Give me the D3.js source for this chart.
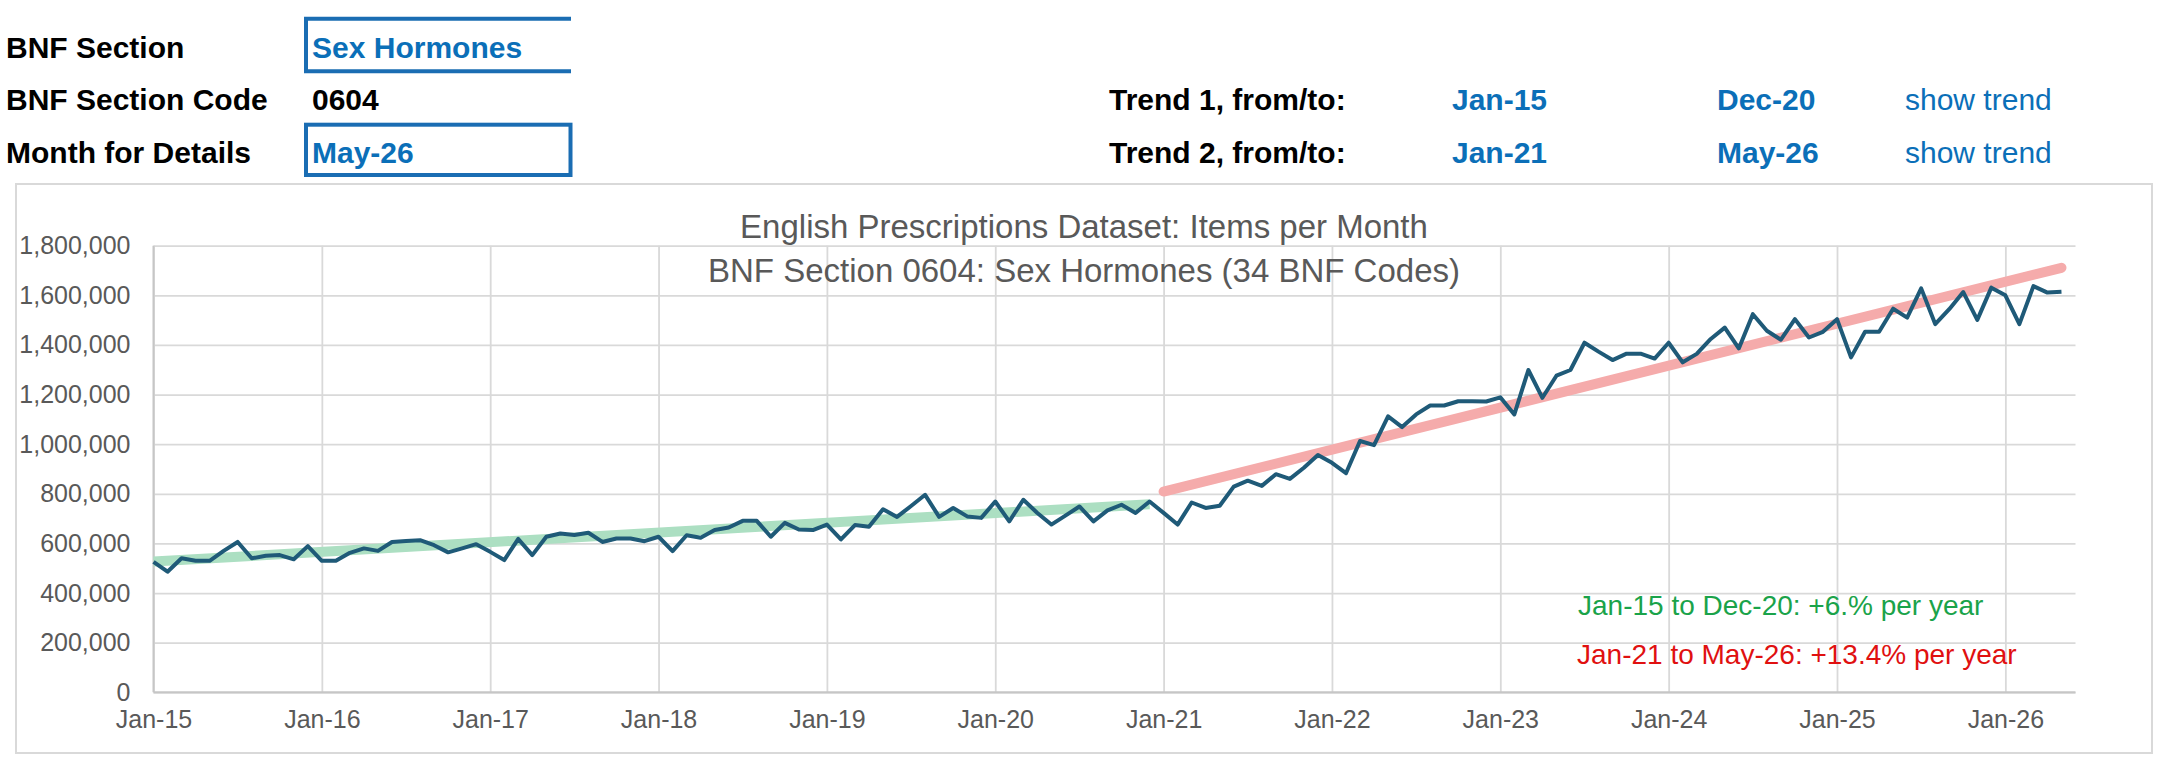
<!DOCTYPE html>
<html>
<head>
<meta charset="utf-8">
<script src="https://cdn.jsdelivr.net/npm/d3@7"></script>
<style>
  html, body { margin: 0; padding: 0; background: #fff; }
  svg { display: block; font-family: "Liberation Sans", Arial, sans-serif; }
</style>
</head>
<body>
<svg id="chart" width="2161" height="764"></svg>
<script>
// ---------- data ----------
const startYear = 2015;              // month index 0 = Jan-15
const xTickMonths = [0, 12, 24, 36, 48, 60, 72, 84, 96, 108, 120, 132];
const xTickLabels = ["Jan-15","Jan-16","Jan-17","Jan-18","Jan-19","Jan-20","Jan-21","Jan-22","Jan-23","Jan-24","Jan-25","Jan-26"];
const yTicks = [0, 200000, 400000, 600000, 800000, 1000000, 1200000, 1400000, 1600000, 1800000];

// Items per month, Jan-15 .. May-26
const items = [
  526000, 486000, 540000, 530000, 530000, 570000, 606000, 540000, 550000, 553000, 536000, 589000,   // 2015
  530000, 530000, 562000, 580000, 570000, 606000, 610000, 613000, 593000, 564000, 580000, 597000,   // 2016
  566000, 533000, 618000, 553000, 627000, 640000, 634000, 643000, 606000, 620000, 620000, 609000,   // 2017
  627000, 569000, 633000, 623000, 654000, 664000, 691000, 691000, 627000, 683000, 656000, 654000,   // 2018
  676000, 616000, 674000, 667000, 738000, 707000, 751000, 796000, 707000, 743000, 709000, 703000,   // 2019
  769000, 689000, 776000, 723000, 676000, 712000, 749000, 689000, 733000, 756000, 723000, 769000,   // 2020
  723000, 676000, 765000, 743000, 752000, 829000, 853000, 832000, 879000, 860000, 905000, 956000,   // 2021
  925000, 883000, 1013000, 996000, 1112000, 1069000, 1120000, 1156000, 1156000, 1173000, 1173000, 1172000, // 2022
  1189000, 1120000, 1299000, 1187000, 1276000, 1299000, 1409000, 1373000, 1339000, 1365000, 1365000, 1345000, // 2023
  1409000, 1330000, 1364000, 1424000, 1470000, 1386000, 1524000, 1457000, 1421000, 1504000, 1430000, 1453000, // 2024
  1504000, 1350000, 1453000, 1453000, 1546000, 1510000, 1628000, 1484000, 1544000, 1613000, 1501000, 1631000, // 2025
  1600000, 1484000, 1637000, 1611000, 1614000                                                          // 2026
];

// Trend lines: [month index, value] at start and end
const trend1 = [[0, 527000], [71, 758000]];
const trend2 = [[72, 809000], [136, 1711000]];

const trendNotes = ["Jan-15 to Dec-20: +6.% per year", "Jan-21 to May-26: +13.4% per year"];
const titleLines = ["English Prescriptions Dataset: Items per Month", "BNF Section 0604: Sex Hormones (34 BNF Codes)"];

const headerLabels = ["BNF Section", "BNF Section Code", "Month for Details"];
const headerValues = ["Sex Hormones", "0604", "May-26"];
const trendRows = [
  ["Trend 1, from/to:", "Jan-15", "Dec-20", "show trend"],
  ["Trend 2, from/to:", "Jan-21", "May-26", "show trend"]
];

// ---------- drawing ----------
const svg = d3.select("#chart");
const W = 2161, H = 764;
const plot = { left: 153.5, right: 2075.5, top: 245.7, bottom: 692.3 };

const x = d3.scaleLinear().domain([0, 137]).range([plot.left, plot.right]);
const y = d3.scaleLinear().domain([0, 1800000]).range([plot.bottom, plot.top]);

const BLUE = "#0b6fb8";
const BOXBLUE = "#1a6db3";
const GREY = "#595959";
const GRID = "#d9d9d9";

// Header
const rowBase = [58, 110, 163];
svg.append("g").selectAll("text").data(headerLabels).join("text")
  .attr("x", 6).attr("y", (d, i) => rowBase[i])
  .attr("font-size", 30).attr("font-weight", "bold").attr("fill", "#000")
  .text(d => d);
svg.append("g").selectAll("text").data(headerValues).join("text")
  .attr("x", 312).attr("y", (d, i) => rowBase[i])
  .attr("font-size", 30).attr("font-weight", "bold")
  .attr("fill", (d, i) => i === 1 ? "#000" : BLUE)
  .text(d => d);

// Boxes around inputs
const box = svg.append("g").attr("fill", "none").attr("stroke", BOXBLUE).attr("stroke-width", 4);
box.append("path").attr("d", "M571,18.7 H306 V71.3 H571");
box.append("rect").attr("x", 306).attr("y", 124.7).attr("width", 264.5).attr("height", 50.3);

// Trend rows
const trendG = svg.append("g");
trendRows.forEach((r, i) => {
  const yy = rowBase[i + 1];
  trendG.append("text").attr("x", 1109).attr("y", yy).attr("font-size", 30).attr("font-weight", "bold").attr("fill", "#000").text(r[0]);
  trendG.append("text").attr("x", 1452).attr("y", yy).attr("font-size", 30).attr("font-weight", "bold").attr("fill", BLUE).text(r[1]);
  trendG.append("text").attr("x", 1717).attr("y", yy).attr("font-size", 30).attr("font-weight", "bold").attr("fill", BLUE).text(r[2]);
  trendG.append("text").attr("x", 1905).attr("y", yy).attr("font-size", 30).attr("fill", BLUE).text(r[3]);
});

// Chart border
svg.append("rect").attr("x", 16).attr("y", 184).attr("width", 2136).attr("height", 569)
  .attr("fill", "#fff").attr("stroke", GRID).attr("stroke-width", 2);

// Y axis + horizontal gridlines
const yAxis = svg.append("g").attr("transform", `translate(${plot.left},0)`)
  .call(d3.axisLeft(y).tickValues(yTicks).tickSize(-(plot.right - plot.left)).tickPadding(23).tickFormat(d3.format(",")));
yAxis.select(".domain").remove();
yAxis.selectAll(".tick line").attr("stroke", GRID).attr("stroke-width", 1.8);
yAxis.selectAll(".tick text").attr("fill", GREY).attr("font-size", 25).attr("font-family", "Liberation Sans, Arial, sans-serif");

// X axis + vertical gridlines
const xAxis = svg.append("g").attr("transform", `translate(0,${plot.bottom})`)
  .call(d3.axisBottom(x).tickValues(xTickMonths).tickSize(-(plot.bottom - plot.top)).tickPadding(18)
    .tickFormat((d, i) => xTickLabels[i]));
xAxis.select(".domain").remove();
xAxis.selectAll(".tick line").attr("stroke", GRID).attr("stroke-width", 1.8);
xAxis.selectAll(".tick text").attr("fill", GREY).attr("font-size", 25).attr("font-family", "Liberation Sans, Arial, sans-serif");

// axis lines
svg.append("line").attr("x1", plot.left).attr("x2", plot.left).attr("y1", plot.top).attr("y2", plot.bottom)
  .attr("stroke", "#c6c6c6").attr("stroke-width", 2);
svg.append("line").attr("x1", plot.left).attr("x2", plot.right).attr("y1", y(0)).attr("y2", y(0))
  .attr("stroke", "#c6c6c6").attr("stroke-width", 2);

// Title
svg.append("g").selectAll("text").data(titleLines).join("text")
  .attr("x", 1084).attr("y", (d, i) => 237.5 + i * 44)
  .attr("text-anchor", "middle").attr("font-size", 33).attr("fill", GREY)
  .text(d => d);

// Trend bands
const tline = d3.line().x(d => x(d[0])).y(d => y(d[1]));
svg.append("path").attr("d", tline(trend1)).attr("fill", "none")
  .attr("stroke", "#acdfc2").attr("stroke-width", 10).attr("stroke-linecap", "butt");
svg.append("path").attr("d", tline(trend2)).attr("fill", "none")
  .attr("stroke", "#f5abab").attr("stroke-width", 10).attr("stroke-linecap", "round");

// Data line
const line = d3.line().x((d, i) => x(i)).y(d => y(d));
svg.append("path").datum(items).attr("d", line).attr("fill", "none")
  .attr("stroke", "#1f5a78").attr("stroke-width", 4).attr("stroke-linejoin", "round");

// Trend notes
svg.append("text").attr("x", 1578).attr("y", 614.5).attr("font-size", 28).attr("fill", "#1aa34a").text(trendNotes[0]);
svg.append("text").attr("x", 1577).attr("y", 664).attr("font-size", 28).attr("fill", "#e01010").text(trendNotes[1]);
</script>
</body>
</html>
